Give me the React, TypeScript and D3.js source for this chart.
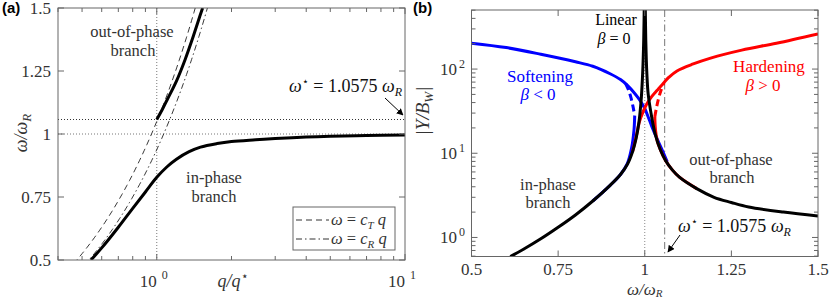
import React from "react";
import * as d3 from "d3";

// ---- panel (a): dispersion curves ----
const inPhaseQ = [0.543, 0.6, 0.7, 0.8, 0.9, 1.0, 1.1, 1.2, 1.35, 1.5, 1.75, 2, 2.5, 3, 4, 5, 7, 10];
const inPhaseW = [0.5, 0.548, 0.63, 0.705, 0.77, 0.828, 0.87, 0.9, 0.93, 0.948, 0.962, 0.97, 0.977, 0.982, 0.988, 0.991, 0.994, 0.996];
const outPhaseQ = [1, 1.05, 1.1, 1.2, 1.3, 1.4, 1.5, 1.53];
const outPhaseW = [1.0575, 1.095, 1.135, 1.21, 1.295, 1.385, 1.475, 1.5];
const cT = 1.05;
const cR = 0.938;
const omegaStar = 1.0575;
const wTicksA = [0.5, 0.75, 1, 1.25, 1.5];
const wTickLabelsA = ["0.5", "0.75", "1", "1.25", "1.5"];

// ---- panel (b): frequency response ----
const linInW = [0.612, 0.65, 0.7, 0.75, 0.8, 0.85, 0.9, 0.93, 0.95, 0.965, 0.975, 0.983, 0.99, 0.994, 0.997, 0.999];
const linInY = [0.594, 0.724, 0.963, 1.32, 1.85, 2.71, 4.16, 5.6, 7.4, 10.5, 15, 23, 45, 90, 220, 800];
const linOutW = [1.001, 1.003, 1.006, 1.01, 1.02, 1.03, 1.045, 1.06, 1.08, 1.1, 1.15, 1.2, 1.25, 1.3, 1.4, 1.5];
const linOutY = [800, 220, 90, 50, 27, 17, 11, 8.2, 6.3, 5.2, 3.8, 3.0, 2.6, 2.3, 2.0, 1.8];

const softUpW = [0.5, 0.6, 0.7, 0.8, 0.85, 0.9, 0.93, 0.95, 0.97, 0.98, 0.99, 1.0, 1.01, 1.02, 1.035, 1.05, 1.065];
const softUpY = [203, 180, 150, 122, 108, 88, 75, 64, 52, 46, 40, 34, 27, 21, 15, 11, 7.9];
const softDashW = [0.945, 0.952, 0.96, 0.966, 0.971];
const softDashY = [67, 58, 46, 36, 28];
const softLowW = [0.85, 0.9, 0.93, 0.95, 0.962, 0.969, 0.971];
const softLowY = [2.71, 4.16, 5.6, 7.6, 11.5, 19, 28];

const hardUpW = [0.965, 0.975, 0.985, 0.995, 1.005, 1.02, 1.036, 1.054, 1.07, 1.093, 1.14, 1.19, 1.28, 1.38, 1.5];
const hardUpY = [10.5, 15.5, 24, 31, 38, 47, 56, 68, 80, 95, 115, 135, 168, 203, 262];
const hardDashW = [1.029, 1.034, 1.04, 1.047, 1.055];
const hardDashY = [27, 35, 45, 56, 68];
const hardLowW = [1.029, 1.031, 1.036, 1.045, 1.06, 1.08, 1.1, 1.15];
const hardLowY = [27, 19, 14, 11, 8.2, 6.3, 5.2, 3.8];

const wTicksB = [0.5, 0.75, 1, 1.25, 1.5];
const wTickLabelsB = ["0.5", "0.75", "1", "1.25", "1.5"];

const FONT = "Liberation Serif, DejaVu Serif, serif";
const AXIS = "#666";
const TXT = "#333";

const A = { l: 58, r: 405, t: 8, b: 260 };
const B = { l: 471.5, r: 818, t: 10, b: 256.5 };

const zip = (xs: number[], ys: number[]) => xs.map((x, i) => [x, ys[i]] as [number, number]);

export default function App() {
  // scales
  const xA = d3.scaleLog().domain([0.4, 10]).range([A.l, A.r]);
  const yA = d3.scaleLinear().domain([0.5, 1.5]).range([A.b, A.t]);
  const xB = d3.scaleLinear().domain([0.5, 1.5]).range([B.l, B.r]);
  const yB = d3.scaleLog().domain([0.594, 503]).range([B.b, B.t]);

  const lineA = d3
    .line<[number, number]>()
    .x((d) => xA(d[0]))
    .y((d) => yA(d[1]))
    .curve(d3.curveCatmullRom.alpha(0.5));
  const lineB = d3
    .line<[number, number]>()
    .x((d) => xB(d[0]))
    .y((d) => yB(d[1]))
    .curve(d3.curveCatmullRom.alpha(0.5));

  const qs = d3.range(-0.45, 0.25, 0.01).map((e) => Math.pow(10, e));
  const ctPts = qs.map((q) => [q, cT * q] as [number, number]);
  const crPts = qs.map((q) => [q, cR * q] as [number, number]);

  const minorA: number[] = [];
  [0.1, 1].forEach((dec) => {
    for (let k = 2; k <= 9; k++) {
      const v = k * dec;
      if (v >= 0.4 && v <= 10) minorA.push(v);
    }
  });
  const minorB: number[] = [];
  [0.1, 1, 10, 100].forEach((dec) => {
    for (let k = 2; k <= 9; k++) {
      const v = k * dec;
      if (v >= 0.594 && v <= 503) minorB.push(v);
    }
  });

  const serif = { fontFamily: FONT };

  return (
    <svg
      width={831}
      height={301}
      style={{ position: "absolute", left: 0, top: 0, background: "#fff", fontFamily: FONT }}
    >
      <defs>
        <clipPath id="clipA">
          <rect x={A.l} y={A.t} width={A.r - A.l} height={A.b - A.t} />
        </clipPath>
        <clipPath id="clipB">
          <rect x={B.l} y={B.t} width={B.r - B.l} height={B.b - B.t} />
        </clipPath>
        <marker id="arr" viewBox="0 0 10 10" refX="9" refY="5" markerWidth="7" markerHeight="7" orient="auto">
          <path d="M0,0 L10,5 L0,10 z" fill="#000" />
        </marker>
      </defs>

      {/* ================= panel (a) ================= */}
      <g clipPath="url(#clipA)">
        <line x1={xA(1)} x2={xA(1)} y1={A.t} y2={A.b} stroke="#777" strokeWidth={1} strokeDasharray="1,2" />
        <line x1={A.l} x2={A.r} y1={yA(1)} y2={yA(1)} stroke="#777" strokeWidth={1} strokeDasharray="1,2" />
        <line x1={A.l} x2={A.r} y1={yA(omegaStar)} y2={yA(omegaStar)} stroke="#333" strokeWidth={1} strokeDasharray="1,2" />
        <path d={lineA(ctPts) || ""} fill="none" stroke="#222" strokeWidth={0.9} strokeDasharray="6,4" />
        <path d={lineA(crPts) || ""} fill="none" stroke="#222" strokeWidth={0.9} strokeDasharray="6,3,1.5,3" />
        <path d={lineA(zip(inPhaseQ, inPhaseW)) || ""} fill="none" stroke="#000" strokeWidth={3} />
        <path d={lineA(zip(outPhaseQ, outPhaseW)) || ""} fill="none" stroke="#000" strokeWidth={3} />
      </g>

      {/* axes box a */}
      <rect x={A.l} y={A.t} width={A.r - A.l} height={A.b - A.t} fill="none" stroke={AXIS} strokeWidth={1} />
      {wTicksA.map((v) => (
        <g key={"ya" + v}>
          <line x1={A.l} x2={A.l + 6} y1={yA(v)} y2={yA(v)} stroke={AXIS} />
          <line x1={A.r} x2={A.r - 6} y1={yA(v)} y2={yA(v)} stroke={AXIS} />
        </g>
      ))}
      {wTicksA.map((v, i) => (
        <text key={"yla" + v} x={A.l - 7} y={yA(v) + 5.5} textAnchor="end" fontSize={17} fill={TXT} style={serif}>
          {wTickLabelsA[i]}
        </text>
      ))}
      {[1, 10].map((v) => (
        <g key={"xa" + v}>
          <line x1={xA(v)} x2={xA(v)} y1={A.b} y2={A.b - 6} stroke={AXIS} />
          <line x1={xA(v)} x2={xA(v)} y1={A.t} y2={A.t + 6} stroke={AXIS} />
        </g>
      ))}
      {minorA.map((v) => (
        <g key={"xam" + v}>
          <line x1={xA(v)} x2={xA(v)} y1={A.b} y2={A.b - 4} stroke={AXIS} />
          <line x1={xA(v)} x2={xA(v)} y1={A.t} y2={A.t + 4} stroke={AXIS} />
        </g>
      ))}
      {[
        [1, "0"],
        [10, "1"],
      ].map(([v, e]) => (
        <text key={"xla" + v} x={xA(v as number) - 3} y={287} textAnchor="middle" fontSize={17} fill={TXT} style={serif}>
          10
          <tspan dx={5} dy={-8} fontSize={12}>
            {e}
          </tspan>
        </text>
      ))}
      <text x={233} y={287} textAnchor="middle" fontSize={18} fill={TXT} fontStyle="italic" style={serif}>
        q/q<tspan dy={-7} fontSize={12} fontStyle="normal">⋆</tspan>
      </text>
      <text transform="translate(27,133) rotate(-90)" textAnchor="middle" fontSize={18} fill={TXT} fontStyle="italic" style={serif}>
        ω/ω<tspan dy={4} fontSize={13}>R</tspan>
      </text>

      {/* annotations a */}
      <text x={132} y={37} textAnchor="middle" fontSize={16.5} fill={TXT} style={serif}>out-of-phase</text>
      <text x={133} y={56} textAnchor="middle" fontSize={16.5} fill={TXT} style={serif}>branch</text>
      <text x={214} y={183} textAnchor="middle" fontSize={16.5} fill={TXT} style={serif}>in-phase</text>
      <text x={214} y={202} textAnchor="middle" fontSize={16.5} fill={TXT} style={serif}>branch</text>
      <text x={402} y={92} textAnchor="end" fontSize={18} fill="#111" style={serif}>
        <tspan fontStyle="italic">ω</tspan>
        <tspan dy={-7} fontSize={11}>⋆</tspan>
        <tspan dy={7}> = 1.0575 </tspan>
        <tspan fontStyle="italic">ω</tspan>
        <tspan dy={4} fontSize={12} fontStyle="italic">R</tspan>
      </text>
      <line x1={385} y1={98} x2={403} y2={115} stroke="#000" strokeWidth={1} markerEnd="url(#arr)" />

      {/* legend a */}
      <rect x={293} y={207} width={102} height={43} fill="#fff" stroke={AXIS} />
      <line x1={296} x2={329} y1={220} y2={220} stroke="#333" strokeDasharray="6,4" />
      <line x1={296} x2={329} y1={239} y2={239} stroke="#333" strokeDasharray="6,3,1.5,3" />
      <text x={331} y={225} fontSize={16.5} fill={TXT} style={serif}>
        <tspan fontStyle="italic">ω</tspan> = <tspan fontStyle="italic">c</tspan>
        <tspan dy={4} fontSize={11} fontStyle="italic">T</tspan>
        <tspan dy={-4} fontStyle="italic"> q</tspan>
      </text>
      <text x={331} y={244} fontSize={16.5} fill={TXT} style={serif}>
        <tspan fontStyle="italic">ω</tspan> = <tspan fontStyle="italic">c</tspan>
        <tspan dy={4} fontSize={11} fontStyle="italic">R</tspan>
        <tspan dy={-4} fontStyle="italic"> q</tspan>
      </text>

      <text x={2} y={13} style={{ fontFamily: "Liberation Sans, Arial, sans-serif" }} fontWeight="bold" fontSize={15} fill="#000">
        (a)
      </text>

      {/* ================= panel (b) ================= */}
      <g clipPath="url(#clipB)">
        <line x1={xB(1)} x2={xB(1)} y1={B.t} y2={B.b} stroke="#888" strokeDasharray="1,2" />
        <line x1={xB(omegaStar)} x2={xB(omegaStar)} y1={B.t} y2={B.b} stroke="#777" strokeDasharray="7,3,1.5,3" />

        <path d={lineB(zip(softUpW, softUpY)) || ""} fill="none" stroke="#0000ff" strokeWidth={3} />
        <path d={lineB(zip(softLowW, softLowY)) || ""} fill="none" stroke="#0000ff" strokeWidth={3} />
        <path d={lineB(zip(softDashW, softDashY)) || ""} fill="none" stroke="#0000ff" strokeWidth={3} strokeDasharray="7,4" />

        <path d={lineB(zip(hardUpW, hardUpY)) || ""} fill="none" stroke="#ff0000" strokeWidth={3} />
        <path d={lineB(zip(hardLowW, hardLowY)) || ""} fill="none" stroke="#ff0000" strokeWidth={3} />
        <path d={lineB(zip(hardDashW, hardDashY)) || ""} fill="none" stroke="#ff0000" strokeWidth={3} strokeDasharray="7,4" />

        <path d={lineB(zip(linInW, linInY)) || ""} fill="none" stroke="#000" strokeWidth={3} />
        <path d={lineB(zip(linOutW, linOutY)) || ""} fill="none" stroke="#000" strokeWidth={3} />
      </g>

      <rect x={B.l} y={B.t} width={B.r - B.l} height={B.b - B.t} fill="none" stroke={AXIS} strokeWidth={1} />
      {wTicksB.map((v, i) => (
        <g key={"xb" + v}>
          <line x1={xB(v)} x2={xB(v)} y1={B.b} y2={B.b - 6} stroke={AXIS} />
          <line x1={xB(v)} x2={xB(v)} y1={B.t} y2={B.t + 6} stroke={AXIS} />
          <text x={xB(v)} y={275} textAnchor="middle" fontSize={17} fill={TXT} style={serif}>
            {wTickLabelsB[i]}
          </text>
        </g>
      ))}
      {[1, 10, 100].map((v, i) => (
        <g key={"yb" + v}>
          <line x1={B.l} x2={B.l + 6} y1={yB(v)} y2={yB(v)} stroke={AXIS} />
          <line x1={B.r} x2={B.r - 6} y1={yB(v)} y2={yB(v)} stroke={AXIS} />
          <text x={457} y={yB(v) + 6} textAnchor="end" fontSize={17} fill={TXT} style={serif}>
            10
          </text>
          <text x={459} y={yB(v) - 1} fontSize={12} fill={TXT} style={serif}>
            {i}
          </text>
        </g>
      ))}
      {minorB.map((v) => (
        <g key={"ybm" + v}>
          <line x1={B.l} x2={B.l + 4} y1={yB(v)} y2={yB(v)} stroke={AXIS} />
          <line x1={B.r} x2={B.r - 4} y1={yB(v)} y2={yB(v)} stroke={AXIS} />
        </g>
      ))}
      <text x={xB(1)} y={295} textAnchor="middle" fontSize={17} fill={TXT} fontStyle="italic" style={serif}>
        ω/ω<tspan dy={2} fontSize={11}>R</tspan>
      </text>
      <text transform="translate(429,111) rotate(-90)" textAnchor="middle" fontSize={19} fill={TXT} fontStyle="italic" style={serif}>
        |Y/B<tspan dy={4} fontSize={13}>W</tspan>
        <tspan dy={-4}>|</tspan>
      </text>

      {/* annotations b */}
      <text x={616} y={25} textAnchor="middle" fontSize={16} fill="#000" style={serif}>Linear</text>
      <text x={614} y={44} textAnchor="middle" fontSize={16} fill="#000" style={serif}>
        <tspan fontStyle="italic">β</tspan> = 0
      </text>
      <text x={540} y={82} textAnchor="middle" fontSize={17} fill="#0000ff" style={serif}>Softening</text>
      <text x={538} y={100} textAnchor="middle" fontSize={17} fill="#0000ff" style={serif}>
        <tspan fontStyle="italic">β</tspan> &lt; 0
      </text>
      <text x={769} y={72} textAnchor="middle" fontSize={17} fill="#ff0000" style={serif}>Hardening</text>
      <text x={763} y={91} textAnchor="middle" fontSize={17} fill="#ff0000" style={serif}>
        <tspan fontStyle="italic">β</tspan> &gt; 0
      </text>
      <text x={548} y={190} textAnchor="middle" fontSize={16.5} fill={TXT} style={serif}>in-phase</text>
      <text x={548} y={208} textAnchor="middle" fontSize={16.5} fill={TXT} style={serif}>branch</text>
      <text x={731} y={165} textAnchor="middle" fontSize={16.5} fill={TXT} style={serif}>out-of-phase</text>
      <text x={732} y={183} textAnchor="middle" fontSize={16.5} fill={TXT} style={serif}>branch</text>
      <text x={678} y={232} fontSize={18} fill="#111" style={serif}>
        <tspan fontStyle="italic">ω</tspan>
        <tspan dy={-7} fontSize={11}>⋆</tspan>
        <tspan dy={7}> = 1.0575 </tspan>
        <tspan fontStyle="italic">ω</tspan>
        <tspan dy={4} fontSize={12} fontStyle="italic">R</tspan>
      </text>
      <line x1={680} y1={235} x2={668} y2={252} stroke="#000" strokeWidth={1} markerEnd="url(#arr)" />

      <text x={413} y={13} style={{ fontFamily: "Liberation Sans, Arial, sans-serif" }} fontWeight="bold" fontSize={15} fill="#000">
        (b)
      </text>
    </svg>
  );
}
